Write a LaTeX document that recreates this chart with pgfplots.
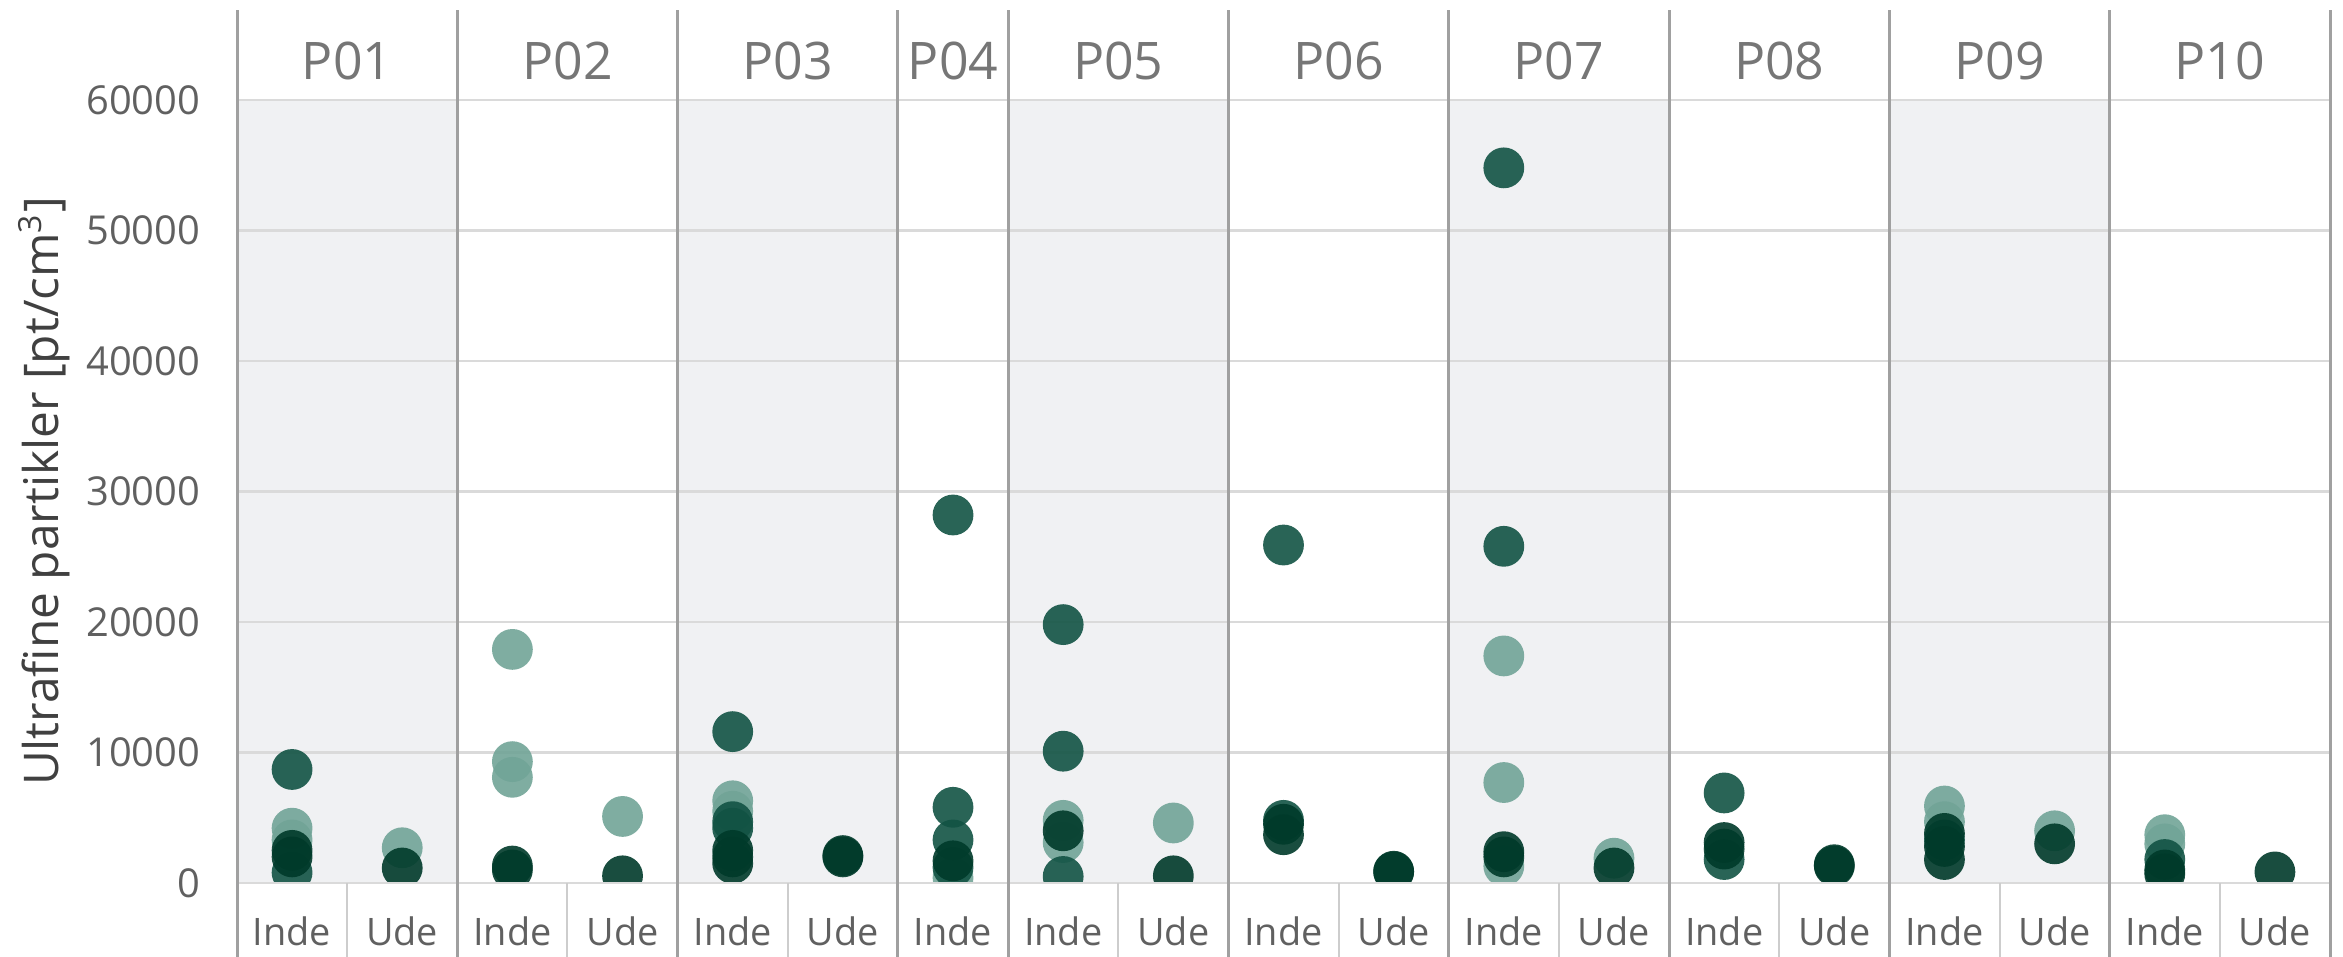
\documentclass[border=0pt]{standalone}
\usepackage{pgfplots}
\pgfplotsset{compat=1.18}
\usepackage{fontspec}
\setmainfont{Open Sans}
\definecolor{bgp}{RGB}{240,241,243}
\definecolor{gridc}{RGB}{218,218,218}
\definecolor{sepc}{RGB}{160,160,160}
\definecolor{sepl}{RGB}{205,205,205}
\definecolor{cLight}{RGB}{113,164,151}
\definecolor{cMid}{RGB}{18,83,68}
\definecolor{cDark}{RGB}{0,58,42}
\definecolor{tickc}{RGB}{96,96,96}
\definecolor{headc}{RGB}{118,118,118}
\definecolor{titlec}{RGB}{64,64,64}
\begin{document}
\begin{tikzpicture}
\begin{axis}[
  scale only axis, width=523.25bp, height=195.75bp,
  xmin=-0.5, xmax=18.5, ymin=0, ymax=60000,
  clip marker paths=true,
  axis line style={draw=none}, major tick length=0pt,
  xtick={0,...,18},
  xticklabels={Inde,Ude,Inde,Ude,Inde,Ude,Inde,Inde,Ude,Inde,Ude,Inde,Ude,Inde,Ude,Inde,Ude,Inde,Ude},
  ytick={0,10000,...,60000},
  scaled y ticks=false,
  /pgf/number format/1000 sep={},
  /pgf/number format/assume math mode=true,
  yticklabel style={font=\fontsize{10}{12}\selectfont, text=tickc, anchor=east, inner sep=0pt, xshift=-9bp},
  xticklabel style={font=\fontsize{9.5}{11}\selectfont, text=tickc, anchor=base, inner sep=0pt, yshift=-15.5bp},
]
% panel backgrounds
\fill[bgp] (axis cs:-0.5,0) rectangle (axis cs:1.5,60000);
\fill[bgp] (axis cs:3.5,0) rectangle (axis cs:5.5,60000);
\fill[bgp] (axis cs:6.5,0) rectangle (axis cs:8.5,60000);
\fill[bgp] (axis cs:10.5,0) rectangle (axis cs:12.5,60000);
\fill[bgp] (axis cs:14.5,0) rectangle (axis cs:16.5,60000);
% grid lines
\draw[gridc, line width=0.6bp] (axis cs:-0.5,10000) -- (axis cs:18.5,10000);
\draw[gridc, line width=0.6bp] (axis cs:-0.5,20000) -- (axis cs:18.5,20000);
\draw[gridc, line width=0.6bp] (axis cs:-0.5,30000) -- (axis cs:18.5,30000);
\draw[gridc, line width=0.6bp] (axis cs:-0.5,40000) -- (axis cs:18.5,40000);
\draw[gridc, line width=0.6bp] (axis cs:-0.5,50000) -- (axis cs:18.5,50000);

\addplot[only marks, mark=*, mark size=5.1bp, color=cLight, mark options={fill=cLight, draw=cLight, fill opacity=0.9, draw opacity=0}] coordinates {
(0,4200)(0,3300)(1,2700)(2,17900)(2,9300)(2,8100)(3,5100)(4,6300)(4,5500)(6,400)(7,4800)(7,3100)(8,4600)(11,17400)(11,7700)(11,1300)(12,1900)(15,5900)(15,4700)(16,4000)(17,3700)(17,3000)
};
\addplot[only marks, mark=*, mark size=5.1bp, color=cMid, mark options={fill=cMid, draw=cMid, fill opacity=0.9, draw opacity=0}] coordinates {
(0,8700)(0,800)(4,11600)(4,4700)(4,4200)(6,28200)(6,5800)(6,3300)(6,1200)(7,19800)(7,10100)(7,500)(9,25900)(9,4800)(11,54800)(11,25800)(13,6900)(13,1800)(15,3300)(17,1800)
};
\addplot[only marks, mark=*, mark size=5.1bp, color=cDark, mark options={fill=cDark, draw=cDark, fill opacity=0.9, draw opacity=0}] coordinates {
(0,2500)(0,2000)(1,1150)(2,1000)(2,1300)(3,550)(4,2000)(4,1500)(4,2500)(5,2100)(5,2000)(6,1700)(7,4000)(8,550)(9,4500)(9,3700)(10,850)(10,900)(11,2400)(11,2000)(12,1150)(13,3100)(13,2600)(14,1400)(14,1300)(15,3800)(15,2800)(15,1800)(16,3000)(17,1000)(17,700)(18,850)
};

\coordinate (O) at (rel axis cs:0,0);
\coordinate (T) at (rel axis cs:1,1);
\coordinate (YL) at (rel axis cs:0,0.5);
\end{axis}
\begin{scope}[x=27.5394737bp, y=3.2625bp, shift={(O)}, shift={(0.5,0)}]
  % top and bottom horizontal lines
  \draw[gridc, line width=0.6bp] (-0.5,0) -- (18.5,0);
  \draw[gridc, line width=0.6bp] (-0.5,60) -- (18.5,60);
  % category separators (label area)
  \foreach \s in {0.5,2.5,4.5,7.5,9.5,11.5,13.5,15.5,17.5}
    \draw[sepl, line width=0.5bp] (\s,0) -- ([yshift=-18.5bp]\s,0);
  % panel separators
  \foreach \s in {-0.5,1.5,3.5,5.5,6.5,8.5,10.5,12.5,14.5,16.5,18.5}
    \draw[sepc, line width=0.75bp] ([yshift=-18.5bp]\s,0) -- ([yshift=22.5bp]\s,60);
  % panel labels
  \foreach \c/\l in {0.5/P01,2.5/P02,4.5/P03,6/P04,7.5/P05,9.5/P06,11.5/P07,13.5/P08,15.5/P09,17.5/P10}
    \node[anchor=base, inner sep=0pt, text=headc, font=\fontsize{13}{15}\selectfont] at ([yshift=5bp]\c,60) {\l};
\end{scope}
\node[rotate=90, anchor=base, inner sep=0pt, text=titlec, font=\fontsize{12}{14}\selectfont] at ([xshift=-44.5bp]YL) {Ultrafine partikler [pt/cm\textsuperscript{3}]};
\pgfresetboundingbox
\path[use as bounding box] ([xshift=-59.25bp,yshift=-18.5bp]O) rectangle ([xshift=3.25bp,yshift=25bp]T);
\end{tikzpicture}
\end{document}
